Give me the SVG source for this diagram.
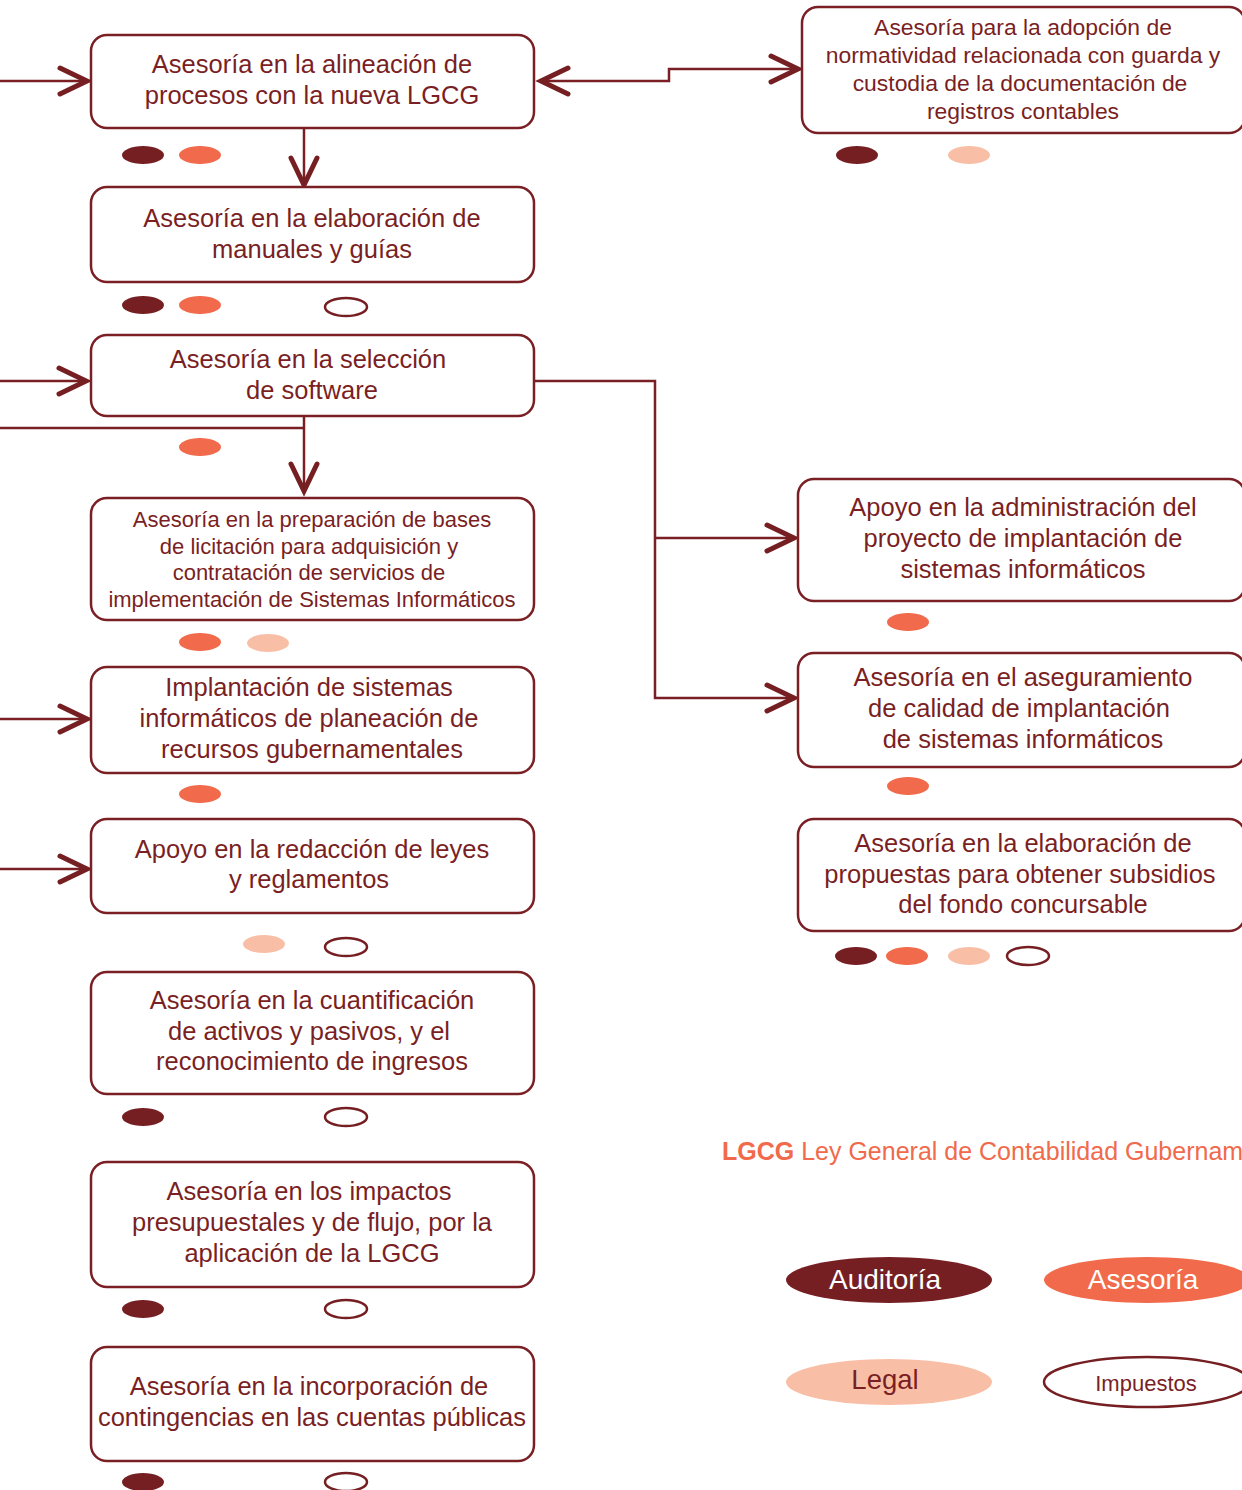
<svg xmlns="http://www.w3.org/2000/svg" width="1242" height="1490" viewBox="0 0 1242 1490">
<style>
.box{fill:#fff;stroke:#7a1f24;stroke-width:2.5}
.t{font-family:"Liberation Sans",Arial,sans-serif;font-size:25.5px;fill:#7a1f24;text-anchor:middle}
.ts{font-size:22px}
.tr{font-size:22.9px}
.conn{fill:none;stroke:#7a1f24;stroke-width:2.5}
.dk{fill:#761f23}
.or{fill:#f06a4b}
.pe{fill:#f9bfa6}
.ol{fill:#fff;stroke:#761f23;stroke-width:2.5}
</style>
<defs>
<marker id="chev" markerUnits="userSpaceOnUse" markerWidth="40" markerHeight="40" refX="0" refY="0" orient="auto-start-reverse" overflow="visible">
<path d="M-27,-13 L0,0 L-27,13" fill="none" stroke="#761f23" stroke-width="5" stroke-linecap="round" stroke-linejoin="miter"/>
</marker>
</defs>
<rect width="1242" height="1490" fill="#fff"/>

<g id="connectors">
<path class="conn" d="M0,81 H87" marker-end="url(#chev)"/>
<path class="conn" d="M541,81 H669 V69 H798" marker-start="url(#chev)" marker-end="url(#chev)"/>
<path class="conn" d="M304,128 V185" marker-end="url(#chev)"/>
<path class="conn" d="M0,381 H86" marker-end="url(#chev)"/>
<path class="conn" d="M0,428 H304"/>
<path class="conn" d="M304,416 V491" marker-end="url(#chev)"/>
<path class="conn" d="M535,381 H655 V698 H794" marker-end="url(#chev)"/>
<path class="conn" d="M655,538 H794" marker-end="url(#chev)"/>
<path class="conn" d="M0,719 H87" marker-end="url(#chev)"/>
<path class="conn" d="M0,869 H87" marker-end="url(#chev)"/>
</g>

<g id="n1">
<rect class="box" x="91" y="35" width="443" height="93" rx="16"/>
<text class="t" x="312" y="73">Asesoría en la alineación de</text>
<text class="t" x="312" y="104">procesos con la nueva LGCG</text>
<ellipse class="dk" cx="143" cy="155" rx="21" ry="9"/>
<ellipse class="or" cx="200" cy="155" rx="21" ry="9"/>
</g>

<g id="n2">
<rect class="box" x="91" y="187" width="443" height="95" rx="16"/>
<text class="t" x="312" y="227">Asesoría en la elaboración de</text>
<text class="t" x="312" y="258">manuales y guías</text>
<ellipse class="dk" cx="143" cy="305" rx="21" ry="9"/>
<ellipse class="or" cx="200" cy="305" rx="21" ry="9"/>
<ellipse class="ol" cx="346" cy="307" rx="21" ry="9"/>
</g>

<g id="n3">
<rect class="box" x="91" y="335" width="443" height="81" rx="16"/>
<text class="t" x="308" y="368">Asesoría en la selección</text>
<text class="t" x="312" y="399">de software</text>
<ellipse class="or" cx="200" cy="447" rx="21" ry="9"/>
</g>

<g id="n4">
<rect class="box" x="91" y="498" width="443" height="122" rx="16"/>
<text class="t ts" x="312" y="527">Asesoría en la preparación de bases</text>
<text class="t ts" x="309" y="554">de licitación para adquisición y</text>
<text class="t ts" x="309" y="580">contratación de servicios de</text>
<text class="t ts" x="312" y="607">implementación de Sistemas Informáticos</text>
<ellipse class="or" cx="200" cy="642" rx="21" ry="9"/>
<ellipse class="pe" cx="268" cy="643" rx="21" ry="9"/>
</g>

<g id="n5">
<rect class="box" x="91" y="667" width="443" height="106" rx="16"/>
<text class="t" x="309" y="696">Implantación de sistemas</text>
<text class="t" x="309" y="727">informáticos de planeación de</text>
<text class="t" x="312" y="758">recursos gubernamentales</text>
<ellipse class="or" cx="200" cy="794" rx="21" ry="9"/>
</g>

<g id="n6">
<rect class="box" x="91" y="819" width="443" height="94" rx="16"/>
<text class="t" x="312" y="858">Apoyo en la redacción de leyes</text>
<text class="t" x="309" y="888">y reglamentos</text>
<ellipse class="pe" cx="264" cy="944" rx="21" ry="9"/>
<ellipse class="ol" cx="346" cy="947" rx="21" ry="9"/>
</g>

<g id="n7">
<rect class="box" x="91" y="972" width="443" height="122" rx="16"/>
<text class="t" x="312" y="1009">Asesoría en la cuantificación</text>
<text class="t" x="309" y="1040">de activos y pasivos, y el</text>
<text class="t" x="312" y="1070">reconocimiento de ingresos</text>
<ellipse class="dk" cx="143" cy="1117" rx="21" ry="9"/>
<ellipse class="ol" cx="346" cy="1117" rx="21" ry="9"/>
</g>

<g id="n8">
<rect class="box" x="91" y="1162" width="443" height="125" rx="16"/>
<text class="t" x="309" y="1200">Asesoría en los impactos</text>
<text class="t" x="312" y="1231">presupuestales y de flujo, por la</text>
<text class="t" x="312" y="1262">aplicación de la LGCG</text>
<ellipse class="dk" cx="143" cy="1309" rx="21" ry="9"/>
<ellipse class="ol" cx="346" cy="1309" rx="21" ry="9"/>
</g>

<g id="n9">
<rect class="box" x="91" y="1347" width="443" height="114" rx="16"/>
<text class="t" x="309" y="1395">Asesoría en la incorporación de</text>
<text class="t" x="312" y="1426">contingencias en las cuentas públicas</text>
<ellipse class="dk" cx="143" cy="1482" rx="21" ry="9"/>
<ellipse class="ol" cx="346" cy="1482" rx="21" ry="9"/>
</g>

<g id="r1">
<rect class="box" x="802" y="7" width="443" height="126" rx="16"/>
<text class="t tr" x="1023" y="35">Asesoría para la adopción de</text>
<text class="t tr" x="1023" y="63">normatividad relacionada con guarda y</text>
<text class="t tr" x="1020" y="91">custodia de la documentación de</text>
<text class="t tr" x="1023" y="119">registros contables</text>
<ellipse class="dk" cx="857" cy="155" rx="21" ry="9"/>
<ellipse class="pe" cx="969" cy="155" rx="21" ry="9"/>
</g>

<g id="r2">
<rect class="box" x="798" y="479" width="447" height="122" rx="16"/>
<text class="t" x="1023" y="516">Apoyo en la administración del</text>
<text class="t" x="1023" y="547">proyecto de implantación de</text>
<text class="t" x="1023" y="578">sistemas informáticos</text>
<ellipse class="or" cx="908" cy="622" rx="21" ry="9"/>
</g>

<g id="r3">
<rect class="box" x="798" y="653" width="447" height="114" rx="16"/>
<text class="t" x="1023" y="686">Asesoría en el aseguramiento</text>
<text class="t" x="1019" y="717">de calidad de implantación</text>
<text class="t" x="1023" y="748">de sistemas informáticos</text>
<ellipse class="or" cx="908" cy="786" rx="21" ry="9"/>
</g>

<g id="r4">
<rect class="box" x="798" y="819" width="447" height="112" rx="16"/>
<text class="t" x="1023" y="852">Asesoría en la elaboración de</text>
<text class="t" x="1020" y="883">propuestas para obtener subsidios</text>
<text class="t" x="1023" y="913">del fondo concursable</text>
<ellipse class="dk" cx="856" cy="956" rx="21" ry="9"/>
<ellipse class="or" cx="907" cy="956" rx="21" ry="9"/>
<ellipse class="pe" cx="969" cy="956" rx="21" ry="9"/>
<ellipse class="ol" cx="1028" cy="956" rx="21" ry="9"/>
</g>

<g id="legend">
<text x="722" y="1160" font-family="Liberation Sans, Arial, sans-serif" font-size="25px" fill="#f06a4b"><tspan font-weight="bold">LGCG</tspan> Ley General de Contabilidad Gubernamental</text>
<ellipse class="dk" cx="889" cy="1280" rx="103" ry="23"/>
<text class="t" x="885" y="1289" style="font-size:28px;fill:#fff">Auditoría</text>
<ellipse class="or" cx="1147" cy="1280" rx="103" ry="23"/>
<text class="t" x="1143" y="1289" style="font-size:28px;fill:#fff">Asesoría</text>
<ellipse class="pe" cx="889" cy="1382" rx="103" ry="23"/>
<text class="t" x="885" y="1389" style="font-size:27.5px">Legal</text>
<ellipse class="ol" cx="1147" cy="1382" rx="103" ry="25"/>
<text class="t" x="1146" y="1391" style="font-size:22px">Impuestos</text>
</g>
</svg>
